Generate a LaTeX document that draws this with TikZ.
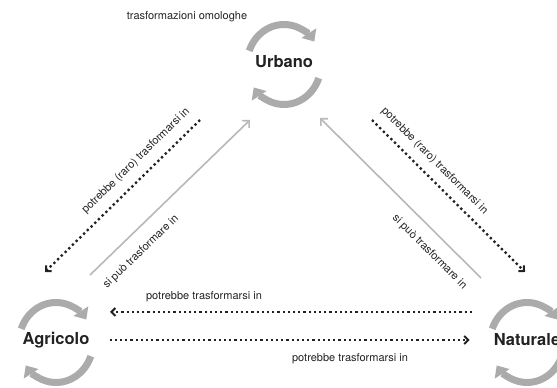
\documentclass[tikz,border=0pt]{standalone}
\usepackage{fontspec}
\setmainfont{TeX Gyre Heros}
\usetikzlibrary{arrows.meta}
\definecolor{arcgray}{HTML}{ABABAB}
\definecolor{linegray}{HTML}{B8B8B8}
\definecolor{ink}{HTML}{222222}

\tikzset{
  uso/.style={font=\fontsize{16.5}{18}\selectfont\bfseries, text=ink, inner sep=2pt},
  nota/.style={font=\fontsize{11}{12}\selectfont, text=ink, inner sep=0pt},
  ciclo/.style={line width=7pt, draw=arcgray, -{Triangle[length=10pt,width=17pt]}},
  puntini/.style={draw=ink, line width=2.3pt, dash pattern=on 2.3pt off 2.9pt,
    -{Straight Barb[length=4pt,width=8pt,line width=2pt]}},
  freccia/.style={draw=linegray, line width=1.6pt, -{Straight Barb[length=5pt,width=10pt]}}
}

\begin{document}
\begin{tikzpicture}[x=1pt,y=1pt]
    \useasboundingbox (0,0) rectangle (557,388);

    \node[uso] (urb) at (284,326) {Urbano};
    \node[uso] (agr) at (56,48) {Agricolo};
    \node[uso] (nat) at (527,48) {Naturale};

    % cicli
    \foreach \n in {urb,agr,nat} {
        \draw[ciclo] ([shift={(160:37 and 40)},yshift=-2.5pt]\n.center) arc[start angle=160, end angle=35, x radius=37, y radius=40];
        \draw[ciclo] ([shift={(-20:37 and 40)},yshift=-2.5pt]\n.center) arc[start angle=-20, end angle=-145, x radius=37, y radius=40];
    }

    \node[nota] (omol) at (187,371) {trasformazioni omologhe};

    % frecce grigie
    \coordinate (a1) at (90,113);
    \coordinate (u1) at (250,268);
    \coordinate (n1) at (481,110);
    \coordinate (u2) at (320,270);
    \draw[freccia] (a1) -- (u1);
    \draw[freccia] (n1) -- (u2);

    % frecce puntinate
    \coordinate (u3) at (200,268);
    \coordinate (a2) at (45,116);
    \coordinate (u4) at (372,268);
    \coordinate (n2) at (525,116);
    \coordinate (n3) at (472,76);
    \coordinate (a3) at (110,76);
    \draw[puntini] (u3) -- (a2);
    \draw[puntini] (u4) -- (n2);
    \draw[puntini] (n3) -- (a3);
    \draw[puntini, shorten <=18pt, shorten >=22pt] (agr) -- (nat);

    \node[nota, rotate=44.4] (l1) at (136,227) {potrebbe (raro) trasformarsi in};
    \node[nota, rotate=44] (l2) at (141,136) {si può trasformare in};
    \node[nota, rotate=-45] (l3) at (434.5,227) {potrebbe (raro) trasformarsi in};
    \node[nota, rotate=-45] (l4) at (429.5,136) {si può trasformare in};
    \node[nota] (l5) at (204,91) {potrebbe trasformarsi in};
    \node[nota] (l6) at (350,29) {potrebbe trasformarsi in};

\end{tikzpicture}
\end{document}
